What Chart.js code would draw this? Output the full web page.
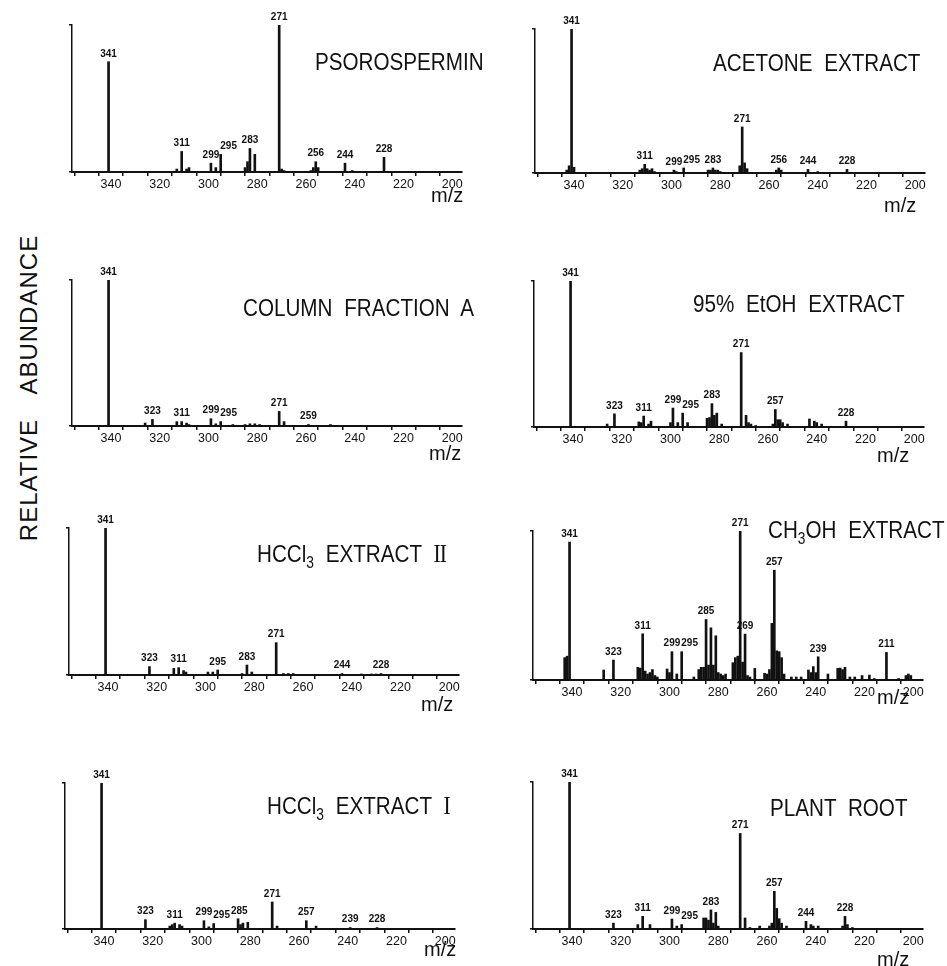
<!DOCTYPE html>
<html>
<head>
<meta charset="utf-8">
<script src="https://cdn.jsdelivr.net/npm/chart.js@4.4.0/dist/chart.umd.min.js"></script>
<style>
body { margin: 0; background: #fff; }
#fig { position: relative; width: 947px; height: 966px; overflow: hidden; background: #fff;
       font-family: "Liberation Sans", Arial, sans-serif; color: #111; }
#fig canvas { position: absolute; }
.ttl { position: absolute; font-size: 24px; line-height: 24px; white-space: nowrap; word-spacing: 7px;
       transform: scaleX(0.86); transform-origin: left center; }
.ttl sub { font-size: 16px; vertical-align: -6px; line-height: 0; }
.ttl .rn { font-family: "Liberation Serif", serif; font-size: 25px; letter-spacing: -1px; }
.mz { position: absolute; font-size: 20px; line-height: 20px; white-space: nowrap; }
#ylab { position: absolute; left: -171px; top: 373px; width: 400px; height: 30px; line-height: 30px;
        text-align: center; font-size: 24px; letter-spacing: 1px; word-spacing: 18px;
        transform: rotate(-90deg); white-space: nowrap; }
</style>
</head>
<body>
<div id="fig"><div id="ylab">RELATIVE ABUNDANCE</div></div>
<script>
// m/z axis
const mzMin = 196;
const mzMax = 356;
const xTickValues = [200, 210, 220, 230, 240, 250, 260, 270, 280, 290, 300, 310, 320, 330, 340, 350];

// psorospermin
const psoroMz  = [341, 313, 311, 309, 308, 299, 297, 295, 285, 284, 283, 281, 271, 270, 269, 258, 257, 256, 255, 244, 241, 228];
const psoroInt = [75, 2, 14, 2, 3, 6, 3, 12, 3, 7, 16, 12, 100, 2, 1, 1, 3, 7, 3, 6, 1, 10];
const psoroLabels = [341, 311, 299, 295, 283, 271, 256, 244, 228];

// acetone extract
const acetoneMz  = [343, 342, 341, 340, 313, 312, 311, 310, 309, 308, 307, 299, 298, 295, 285, 284, 283, 282, 281, 280, 272, 271, 270, 269, 257, 256, 255, 244, 240, 228];
const acetoneInt = [2, 5, 100, 4, 2, 3, 6, 3, 2, 3, 1, 2, 1, 3.5, 2, 2, 3.5, 2, 2, 1, 5, 32, 7, 3, 2, 3.5, 2, 2.5, 1, 2.5];
const acetoneLabels = [341, 311, 299, 295, 283, 271, 256, 244, 228];

// column fraction A
const columnMz  = [341, 326, 323, 313, 311, 309, 308, 299, 297, 295, 290, 285, 283, 281, 279, 271, 269, 259, 250];
const columnInt = [100, 2, 4.5, 3, 3, 2, 1, 5, 1.5, 3, 1, 1, 1.5, 1.5, 1, 10, 3, 1, 1];
const columnLabels = [341, 323, 311, 299, 295, 271, 259];

// 95% EtOH extract
const ethanolMz  = [341, 326, 323, 313, 312, 311, 309, 308, 300, 299, 297, 295, 293, 285, 284, 283, 282, 281, 279, 271, 269, 268, 267, 265, 258, 257, 256, 255, 254, 252, 243, 241, 240, 238, 228];
const ethanolInt = [100, 2, 9, 3.5, 3, 7.5, 2, 4, 3, 13, 3, 9.5, 3, 6, 6.5, 16, 8, 9.5, 2, 51, 8, 3, 2, 1, 2, 12, 5, 5, 3, 2, 5.5, 4, 3, 2, 4];
const ethanolLabels = [341, 323, 311, 299, 295, 283, 271, 257, 228];

// HCCl3 extract II
const chloro2Mz  = [341, 323, 313, 311, 309, 308, 299, 297, 295, 285, 283, 281, 271, 268, 266, 264, 244, 236, 232, 230, 228];
const chloro2Int = [100, 5.7, 4.5, 5, 3, 2, 2, 2, 3.4, 1, 6.8, 2, 22, 1, 1, 1, 1, 0.7, 0.7, 0.7, 1];
const chloro2Labels = [341, 323, 311, 295, 283, 271, 244, 228];

// CH3OH extract
const methanolMz  = [343, 342, 341, 327, 323, 313, 312, 311, 310, 309, 308, 307, 306, 305, 301, 300, 299, 297, 295, 290, 288, 287, 286, 285, 284, 283, 282, 281, 280, 279, 278, 277, 274, 273, 272, 271, 270, 269, 268, 267, 265, 261, 260, 259, 258, 257, 256, 255, 254, 253, 250, 248, 246, 243, 242, 241, 240, 239, 235, 231, 230, 229, 228, 226, 224, 221, 218, 216, 211, 206, 203, 202, 201];
const methanolInt = [15, 16, 92.6, 6.7, 13.4, 8.5, 8, 31, 6, 4, 5, 7, 3, 2, 7.4, 5, 19, 4, 19, 2, 7, 8.5, 8.5, 40.6, 10, 35, 10, 29.7, 5, 4, 3, 4, 11.6, 15, 16, 100, 12, 30.8, 3, 2, 7.8, 4.5, 4, 7, 38, 73.7, 19.6, 19, 15, 4, 2, 2, 2, 6.7, 5, 9, 5, 15.6, 4, 7.8, 8, 7, 8.5, 2, 2, 3, 3.3, 1, 18.5, 1, 3, 4, 3];
const methanolLabels = [341, 323, 311, 299, 295, 285, 271, 269, 257, 239, 211];

// HCCl3 extract I
const chloro1Mz  = [341, 323, 313, 312, 311, 309, 308, 299, 297, 295, 285, 284, 283, 281, 271, 269, 257, 253, 239, 228];
const chloro1Int = [100, 6.4, 2, 3, 4, 3, 2, 5.7, 1.5, 3.7, 7, 3, 4, 4.6, 18.5, 2, 5.7, 2, 1, 1];
const chloro1Labels = [341, 323, 311, 299, 295, 285, 271, 257, 239, 228];

// plant root
const rootMz  = [341, 323, 313, 311, 308, 299, 297, 295, 286, 285, 284, 283, 282, 281, 280, 271, 269, 267, 263, 259, 258, 257, 256, 255, 254, 252, 244, 242, 241, 239, 229, 228, 227, 225];
const rootInt = [100, 4, 3, 8.6, 3, 6.8, 2, 3, 7.5, 7.5, 6, 13, 4, 11.3, 2, 65, 7.5, 1, 2, 2, 4, 25.6, 14, 7, 4, 2, 5.2, 3, 2, 2, 2, 8.6, 3, 1];
const rootLabels = [341, 323, 311, 299, 295, 283, 271, 257, 244, 228];

const panels = [
  { title: 'PSOROSPERMIN', mz: psoroMz, int: psoroInt, labels: psoroLabels },
  { title: 'ACETONE EXTRACT', mz: acetoneMz, int: acetoneInt, labels: acetoneLabels },
  { title: 'COLUMN FRACTION A', mz: columnMz, int: columnInt, labels: columnLabels },
  { title: '95% EtOH EXTRACT', mz: ethanolMz, int: ethanolInt, labels: ethanolLabels },
  { title: 'HCCl<sub>3</sub> EXTRACT <span class="rn">II</span>', mz: chloro2Mz, int: chloro2Int, labels: chloro2Labels },
  { title: 'CH<sub>3</sub>OH EXTRACT', mz: methanolMz, int: methanolInt, labels: methanolLabels },
  { title: 'HCCl<sub>3</sub> EXTRACT <span class="rn">I</span>', mz: chloro1Mz, int: chloro1Int, labels: chloro1Labels },
  { title: 'PLANT ROOT', mz: rootMz, int: rootInt, labels: rootLabels }
];

// page layout: plot box [left, top, height], title [left, middle], m/z text [centre x, middle]
const plotWidth = 390;
const plotBoxes = [[72, 25, 147], [535, 29, 144], [72, 280, 146], [534, 281, 146],
                   [69, 528, 147], [533, 531, 149], [65, 783, 146], [533, 782, 147]];
const titleSpots = [[315, 62], [713, 63], [243, 308], [693, 304], [257, 554], [768, 530], [267, 806], [770, 808]];
const mzSpots = [[447, 196], [900, 206], [445, 454], [893, 456], [437, 705], [893, 698], [440, 950], [893, 960]];

const ink = '#111';
const fig = document.getElementById('fig');

// numbers over the labelled peaks, nudged aside or up when they would overlap
const peakLabelPlugin = {
  id: 'peakLabels',
  afterDatasetsDraw(chart, args, opts) {
    const { ctx } = chart;
    const xs = chart.scales.x, ys = chart.scales.y;
    const pts = chart.data.datasets[0].data;
    ctx.save();
    ctx.font = 'bold 10px "Liberation Sans"';
    ctx.fillStyle = ink;
    ctx.strokeStyle = ink;
    ctx.lineWidth = 1;
    ctx.textAlign = 'center';
    ctx.textBaseline = 'bottom';
    const placed = [];
    const h = 9;
    opts.labels.forEach(m => {
      const p = pts.find(d => d.x === m);
      const px = xs.getPixelForValue(m);
      const top = ys.getPixelForValue(p ? p.y : 0);
      const w = ctx.measureText(String(m)).width;
      let cx = px, by = top - 3;
      const hit = () => placed.find(b => cx - w / 2 < b.r + 1 && cx + w / 2 > b.l - 1 && by - h < b.b && by > b.t);
      let b;
      while ((b = hit())) {
        const shift = b.r + 1 - (cx - w / 2);
        if (cx === px && shift > 0 && shift <= 14) cx += shift;
        else by = b.t - 1;
      }
      if (by < top - 6) {
        ctx.beginPath();
        ctx.moveTo(px, top - 1);
        ctx.lineTo(cx, by + 1);
        ctx.stroke();
      }
      ctx.fillText(String(m), cx, by);
      placed.push({ l: cx - w / 2, r: cx + w / 2, t: by - h, b: by });
    });
    ctx.restore();
  }
};

panels.forEach((pn, i) => {
  const [L, T, H] = plotBoxes[i];
  const padL = 14, padT = 22, padR = 20, axisH = 22;
  const cv = document.createElement('canvas');
  cv.width = padL + plotWidth + padR;
  cv.height = padT + H + axisH;
  cv.style.left = (L - padL) + 'px';
  cv.style.top = (T - padT) + 'px';
  fig.appendChild(cv);

  new Chart(cv, {
    type: 'bar',
    data: {
      datasets: [{
        data: pn.mz.map((m, k) => ({ x: m, y: pn.int[k] })),
        backgroundColor: ink,
        borderWidth: 0,
        barThickness: 2
      }]
    },
    options: {
      responsive: false,
      animation: false,
      devicePixelRatio: 1,
      layout: { padding: { left: padL - 3, top: padT, right: padR, bottom: 0 } },
      plugins: {
        legend: { display: false },
        tooltip: { enabled: false },
        peakLabels: { labels: pn.labels }
      },
      scales: {
        x: {
          type: 'linear',
          reverse: true,
          min: mzMin,
          max: mzMax,
          offset: false,
          afterBuildTicks: s => { s.ticks = xTickValues.map(v => ({ value: v })); },
          afterFit: s => { s.height = axisH; },
          ticks: {
            autoSkip: false,
            maxRotation: 0,
            padding: 1,
            color: ink,
            font: { family: 'Liberation Sans', size: 12.5 },
            callback: v => (v % 20 === 0 ? v : '')
          },
          grid: { drawOnChartArea: false, drawTicks: true, tickLength: 4, color: ink, lineWidth: 1.5 },
          border: { display: true, color: ink, width: 2 }
        },
        y: {
          min: 0,
          max: 100,
          afterBuildTicks: s => { s.ticks = [{ value: 0 }, { value: 100 }]; },
          afterFit: s => { s.width = 3; },
          ticks: { display: false },
          grid: { drawOnChartArea: false, tickLength: 3, color: ink, lineWidth: 1.5 },
          border: { display: true, color: ink, width: 1.5 }
        }
      }
    },
    plugins: [peakLabelPlugin]
  });

  const t = document.createElement('div');
  t.className = 'ttl';
  t.innerHTML = pn.title;
  t.style.left = titleSpots[i][0] + 'px';
  t.style.top = (titleSpots[i][1] - 12) + 'px';
  fig.appendChild(t);

  const mzText = document.createElement('div');
  mzText.className = 'mz';
  mzText.textContent = 'm/z';
  mzText.style.left = (mzSpots[i][0] - 16) + 'px';
  mzText.style.top = (mzSpots[i][1] - 11) + 'px';
  fig.appendChild(mzText);
});
</script>
</body>
</html>
